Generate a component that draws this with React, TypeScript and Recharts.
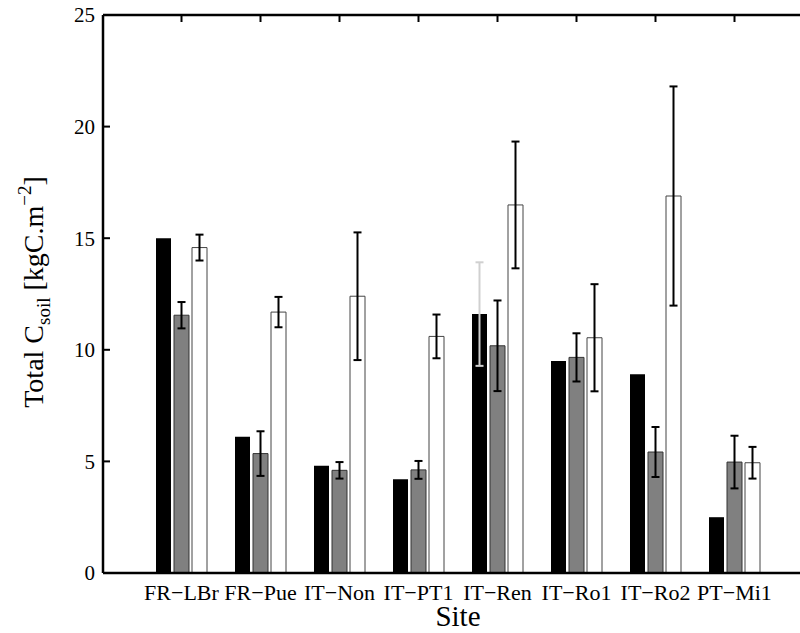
import { BarChart, Bar, XAxis, YAxis, ErrorBar } from 'recharts';

const sites = ['FR−LBr', 'FR−Pue', 'IT−Non', 'IT−PT1', 'IT−Ren', 'IT−Ro1', 'IT−Ro2', 'PT−Mi1'];
const blackVals = [15.0, 6.1, 4.8, 4.2, 11.6, 9.5, 8.9, 2.5];
const blackErr = [null, null, null, null, 2.32, null, null, null];
const grayVals = [11.55, 5.35, 4.6, 4.62, 10.18, 9.66, 5.42, 4.97];
const grayErr = [0.59, 1.0, 0.37, 0.4, 2.03, 1.08, 1.12, 1.18];
const whiteVals = [14.58, 11.69, 12.4, 10.6, 16.49, 10.54, 16.89, 4.94];
const whiteErr = [0.58, 0.68, 2.86, 0.98, 2.84, 2.4, 4.91, 0.71];
const yTicks = [0, 5, 10, 15, 20, 25];

const data = sites.map((site, i) => ({
  site,
  black: blackVals[i],
  blackErr: blackErr[i],
  gray: grayVals[i],
  grayErr: grayErr[i],
  white: whiteVals[i],
  whiteErr: whiteErr[i],
}));

const FONT = '"Liberation Serif", "DejaVu Serif", serif';
const noText = () => '';

// y tick: label outside, short tick line pointing into the plot
const YTick = ({ x, y, payload }: { x: number; y: number; payload: { value: number } }) => (
  <g>
    <line x1={x + 8} x2={x + 15} y1={y} y2={y} stroke="#000" strokeWidth={2} />
    <text x={x} y={y} dy="0.35em" textAnchor="end" fontFamily={FONT} fontSize={21} fill="#000">
      {payload.value}
    </text>
  </g>
);

const YLabel = () => (
  <text
    x={43}
    y={292}
    transform="rotate(-90, 43, 292)"
    textAnchor="middle"
    fontFamily={FONT}
    fontSize={28}
    fill="#000"
  >
    Total C<tspan fontSize={19} dy={7}>soil</tspan>
    <tspan dy={-7}> [kgC.m</tspan>
    <tspan fontSize={19} dy={-12}>−2</tspan>
    <tspan dy={12}>]</tspan>
  </text>
);

const XLabel = () => (
  <text x={458} y={626} textAnchor="middle" fontFamily={FONT} fontSize={29} fill="#000">
    Site
  </text>
);

export default function App() {
  return (
    <div style={{ position: 'fixed', left: 0, top: 0, width: 800, height: 633, overflow: 'hidden', background: '#fff' }}>
      <BarChart
        width={830}
        height={633}
        data={data}
        margin={{ top: 15, right: 17, bottom: 0, left: 0 }}
        barSize={15}
        barGap={3}
      >
        <XAxis
          dataKey="site"
          interval={0}
          padding={{ left: 39, right: 39 }}
          height={60}
          axisLine={{ stroke: '#000', strokeWidth: 2.5 }}
          tickLine={false}
          tickSize={6}
          tickMargin={5}
          tick={{ fontSize: 22, fontFamily: FONT, fill: '#000' }}
          label={<XLabel />}
        />
        {/* box top with inward ticks */}
        <XAxis
          xAxisId="top"
          orientation="top"
          mirror
          dataKey="site"
          interval={0}
          padding={{ left: 39, right: 39 }}
          axisLine={{ stroke: '#000', strokeWidth: 2.5 }}
          tickLine={{ stroke: '#000', strokeWidth: 2 }}
          tickSize={7}
          tickFormatter={noText}
        />
        <YAxis
          domain={[0, 25]}
          ticks={yTicks}
          width={103}
          allowDataOverflow
          axisLine={{ stroke: '#000', strokeWidth: 2.5 }}
          tickLine={false}
          tickSize={0}
          tickMargin={8}
          tick={YTick}
          label={<YLabel />}
        />
        <Bar dataKey="black" fill="#000" isAnimationActive={false}>
          <ErrorBar dataKey="blackErr" width={4} stroke="#d0d0d0" strokeWidth={2} />
        </Bar>
        <Bar dataKey="gray" fill="#808080" stroke="#333" strokeWidth={1} isAnimationActive={false}>
          <ErrorBar dataKey="grayErr" width={4} stroke="#000" strokeWidth={2} />
        </Bar>
        <Bar dataKey="white" fill="#fff" stroke="#444" strokeWidth={1} isAnimationActive={false}>
          <ErrorBar dataKey="whiteErr" width={4} stroke="#000" strokeWidth={2} />
        </Bar>
      </BarChart>
    </div>
  );
}
